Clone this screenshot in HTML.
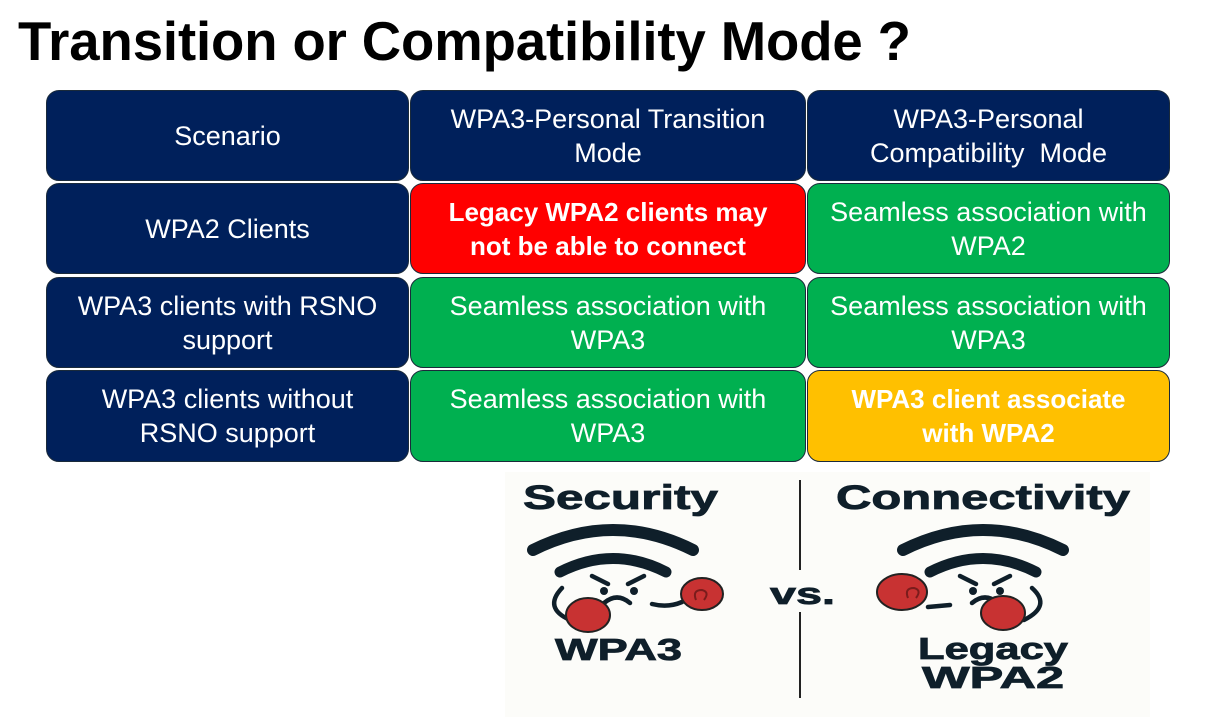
<!DOCTYPE html>
<html><head><meta charset="utf-8"><style>
body{margin:0;width:1207px;height:719px;background:#fff;overflow:hidden;position:relative;font-family:"Liberation Sans",sans-serif}
h1{position:absolute;left:18px;top:10px;margin:0;font-size:54.5px;font-weight:bold;color:#000;letter-spacing:-0.1px;white-space:nowrap}
.c{position:absolute;border:1.5px solid #1a2a3a;border-radius:13px;box-sizing:border-box;display:flex;align-items:center;justify-content:center;text-align:center;color:#fff;font-size:27px;line-height:34px}
.n{background:#00205b}.r{background:#ff0000;font-weight:bold}.g{background:#00b050}.y{background:#ffc000;font-weight:bold}
.r,.y{font-size:26px}
</style></head><body>
<h1>Transition or Compatibility Mode ?</h1>
<div class="c n" style="left:46px;top:90px;width:363px;height:91px">Scenario</div>
<div class="c n" style="left:410px;top:90px;width:396px;height:91px">WPA3-Personal Transition<br>Mode</div>
<div class="c n" style="left:807px;top:90px;width:363px;height:91px">WPA3-Personal<br>Compatibility&nbsp; Mode</div>
<div class="c n" style="left:46px;top:183px;width:363px;height:91px">WPA2 Clients</div>
<div class="c r" style="left:410px;top:183px;width:396px;height:91px">Legacy WPA2 clients may<br>not be able to connect</div>
<div class="c g" style="left:807px;top:183px;width:363px;height:91px">Seamless association with<br>WPA2</div>
<div class="c n" style="left:46px;top:277px;width:363px;height:91px">WPA3 clients with RSNO<br>support</div>
<div class="c g" style="left:410px;top:277px;width:396px;height:91px">Seamless association with<br>WPA3</div>
<div class="c g" style="left:807px;top:277px;width:363px;height:91px">Seamless association with<br>WPA3</div>
<div class="c n" style="left:46px;top:370px;width:363px;height:92px">WPA3 clients without<br>RSNO support</div>
<div class="c g" style="left:410px;top:370px;width:396px;height:92px">Seamless association with<br>WPA3</div>
<div class="c y" style="left:807px;top:370px;width:363px;height:92px">WPA3 client associate<br>with WPA2</div>
<svg style="position:absolute;left:0;top:0" width="1207" height="719">
<rect x="505" y="472" width="645" height="245" fill="#fcfcf9"/>
<g font-family="Liberation Sans,sans-serif" font-weight="bold" fill="#0f1f2a" stroke="#0f1f2a" stroke-width="0.8">
<text x="523" y="509" font-size="34" textLength="195" lengthAdjust="spacingAndGlyphs">Security</text>
<text x="836" y="509" font-size="34" textLength="294" lengthAdjust="spacingAndGlyphs">Connectivity</text>
<text x="555" y="660" font-size="31" textLength="127" lengthAdjust="spacingAndGlyphs">WPA3</text>
<text x="918" y="659" font-size="31" textLength="150" lengthAdjust="spacingAndGlyphs">Legacy</text>
<text x="922" y="688" font-size="31" textLength="142" lengthAdjust="spacingAndGlyphs">WPA2</text>
<text x="770" y="604" font-size="31" textLength="65" lengthAdjust="spacingAndGlyphs">vs.</text>
</g>
<line x1="800" y1="480" x2="800" y2="570" stroke="#222" stroke-width="2"/>
<line x1="800" y1="612" x2="800" y2="698" stroke="#222" stroke-width="2"/>
<g fill="none" stroke="#0f1f2a" stroke-linecap="round">
<path d="M533 550 Q613 510 693 550" stroke-width="12"/>
<path d="M560 572 Q613 545 666 572" stroke-width="11"/>
<path d="M903 550 Q983 510 1063 550" stroke-width="12"/>
<path d="M930 572 Q983 545 1036 572" stroke-width="11"/>
<g stroke-width="4.5">
<path d="M592 576 L608 584 M628 584 L644 576"/><path d="M604 603 Q617 592 630 603"/>
<path d="M562 588 Q543 608 570 620"/><path d="M652 604 Q668 608 682 602"/>
<path d="M960 576 L976 584 M994 584 L1010 576"/><path d="M972 603 Q985 592 998 603"/>
<path d="M1032 588 Q1052 606 1024 620"/><path d="M928 607 L950 605"/>
</g></g>
<g fill="#0f1f2a"><circle cx="604" cy="591" r="4"/><circle cx="634" cy="591" r="4"/><circle cx="973" cy="591" r="4"/><circle cx="1000" cy="591" r="4"/></g>
<g fill="#c83232" stroke="#222" stroke-width="2">
<ellipse cx="588" cy="615" rx="22" ry="17"/><ellipse cx="702" cy="594" rx="21" ry="16"/>
<ellipse cx="902" cy="592" rx="25" ry="18"/><ellipse cx="1003" cy="613" rx="22" ry="17"/>
</g>
<g fill="none" stroke="#7a1c1c" stroke-width="2"><path d="M696 600 q-4 -10 6 -10 q8 2 2 10"/><path d="M908 598 q-4 -10 6 -10 q8 2 2 10"/></g>
</svg>
</body></html>
